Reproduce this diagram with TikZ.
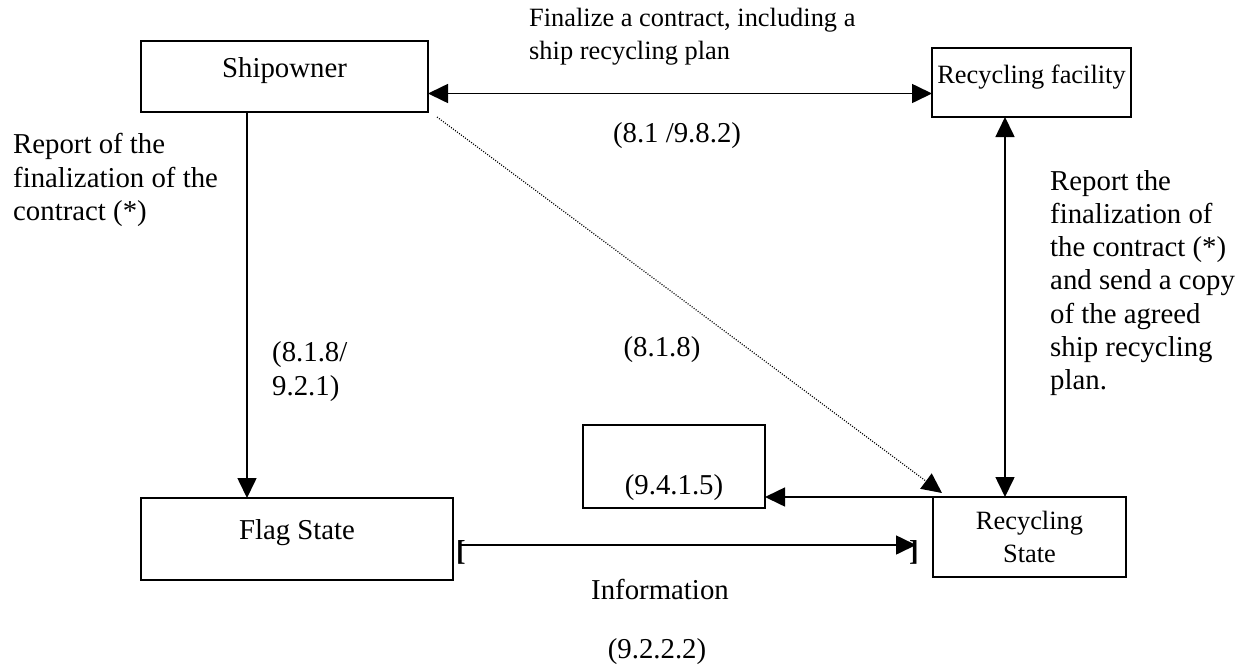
\documentclass[tikz,border=0pt]{standalone}
\usepackage{fontspec}
\setmainfont{Liberation Serif}
\usetikzlibrary{arrows.meta}

\begin{document}
\begin{tikzpicture}
      [x=1pt,y=-1pt
      ,txt/.style={inner sep=0,align=left,font=\fontsize{28.8}{33.3}\selectfont}
      ,sml/.style={inner sep=0,align=left,font=\fontsize{26.4}{33.3}\selectfont}
      ,blk/.style={draw,line width=1.8pt,inner sep=0,outer sep=0,align=center}
      ,up/.style={text height=19pt,text depth=18pt}
      ,lin/.style={line width=1.6pt,-{Triangle[length=20pt,width=19pt]}}
      ,dbl/.style={lin,{Triangle[length=20pt,width=19pt]}-{Triangle[length=20pt,width=19pt]}}
      ,dot/.style={lin,line width=1.2pt,dash pattern=on 1pt off 1.5pt}]
        \useasboundingbox (0,0) rectangle (1247,667);
        % boxes
        \node[txt,blk,up,minimum width=287,minimum height=71] (ship) at (284.5,76.5) {Shipowner};
        \node[sml,blk,up,minimum width=199,minimum height=69] (rf)   at (1031.5,82.5) {Recycling facility};
        \node[txt,blk,up,minimum width=312,minimum height=82] (flag) at (297,539) {Flag State};
        \node[sml,blk,minimum width=193,minimum height=80]    (rs)   at (1029.5,537) {Recycling\\State};
        \node[txt,blk,text height=62pt,text depth=6pt
             ,minimum width=182,minimum height=83]             (note) at (674,466.5) {(9.4.1.5)};
        % brackets
        \node[txt,font=\fontsize{28.8}{33.3}\selectfont\bfseries] (lb) at (461,552) {[};
        \node[txt,font=\fontsize{28.8}{33.3}\selectfont\bfseries] (rb) at (914,552) {]};
        % labels
        \node[sml,anchor=west] (fin)  at (529,36.5) {Finalize a contract, including a\\ship recycling plan};
        \node[txt]             (l81)  at (677,136) {(8.1 /9.8.2)};
        \node[txt,anchor=west] (rpl)  at (13,180) {Report of the\\finalization of the\\contract (*)};
        \node[txt,anchor=west] (l921) at (272,371.5) {(8.1.8/\\9.2.1)};
        \node[txt]             (l818) at (662,350) {(8.1.8)};
        \node[txt,anchor=west] (rpr)  at (1050,283) {Report the\\finalization of\\the contract (*)\\and send a copy\\of the agreed\\ship recycling\\plan.};
        \node[txt]             (inf)  at (660,589) {Information};
        \node[txt]             (ref)  at (657,652) {(9.2.2.2)};
        % connectors
        \draw[dbl] ([yshift=-17pt]ship.east) -- ([yshift=-11pt]rf.west);
        \draw[lin] ([xshift=-37.5pt]ship.south) -- ([xshift=-50pt]flag.north);
        \draw[dot] ([xshift=9pt,yshift=-5pt]ship.south east) -- ([xshift=9pt,yshift=4pt]rs.north west);
        \draw[dbl] ([xshift=-26.5pt]rf.south) -- ([xshift=-24.5pt]rs.north);
        \draw[lin] (rs.north west) -- (rs.north west -| note.east);
        \draw[lin] ([yshift=7pt]lb.center) -- ([xshift=2pt,yshift=7pt]rb.center);
      \end{tikzpicture}
\end{document}
